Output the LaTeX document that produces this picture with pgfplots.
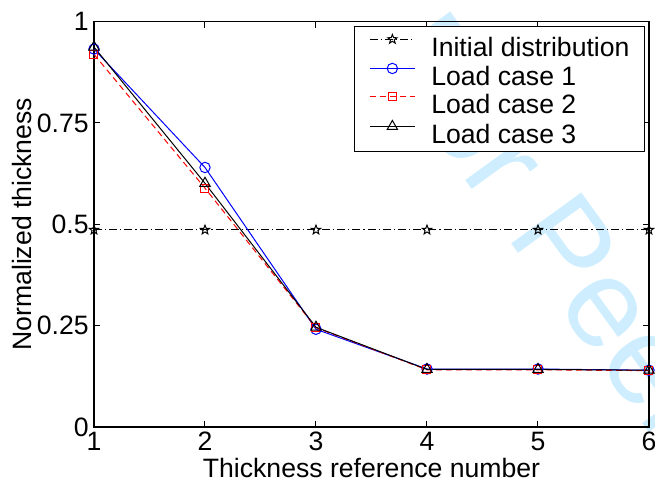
\documentclass[border=0pt]{standalone}
\usepackage{pgfplots}
\pgfplotsset{compat=1.18}
\usepackage{fontspec}
\setmainfont{Liberation Sans}
\definecolor{wm}{RGB}{206,238,255}
\pgfdeclareplotmark{pentagram}{%
  \pgfpathmoveto{\pgfpointpolar{90}{\pgfplotmarksize}}%
  \pgfpathlineto{\pgfpointpolar{126}{0.42\pgfplotmarksize}}%
  \pgfpathlineto{\pgfpointpolar{162}{\pgfplotmarksize}}%
  \pgfpathlineto{\pgfpointpolar{198}{0.42\pgfplotmarksize}}%
  \pgfpathlineto{\pgfpointpolar{234}{\pgfplotmarksize}}%
  \pgfpathlineto{\pgfpointpolar{270}{0.42\pgfplotmarksize}}%
  \pgfpathlineto{\pgfpointpolar{306}{\pgfplotmarksize}}%
  \pgfpathlineto{\pgfpointpolar{342}{0.42\pgfplotmarksize}}%
  \pgfpathlineto{\pgfpointpolar{18}{\pgfplotmarksize}}%
  \pgfpathlineto{\pgfpointpolar{54}{0.42\pgfplotmarksize}}%
  \pgfpathclose\pgfusepathqstroke}
\begin{document}
\begin{tikzpicture}[x=1pt,y=1pt]
\begin{scope}
\clip (0,0) rectangle (327.5,242);
\node[rotate=-54, anchor=base west, text=wm, inner sep=0pt,
  font=\fontsize{63}{70}\selectfont] at (187,215) {For Peer Review};
\end{scope}
\begin{axis}[
  at={(47pt,28.5pt)}, anchor=south west,
  width=277.5pt, height=202.75pt, scale only axis,
  xmin=1, xmax=6, ymin=0, ymax=1,
  xtick={1,2,3,4,5,6},
  ytick={0,0.25,0.5,0.75,1},
  yticklabels={0,0.25,0.5,0.75,1},
  tick align=inside, xtick pos=both, ytick pos=both,
  major tick length=3pt,
  axis line style={line width=0.8pt},
  every tick/.style={black, line width=0.5pt},
  /pgf/number format/assume math mode=true,
  tick label style={font=\fontsize{13.3}{15}\selectfont},
  xticklabel style={inner sep=0pt, yshift=-2.5pt},
  yticklabel style={inner sep=0pt, xshift=-2.5pt},
  label style={font=\fontsize{13.3}{15}\selectfont},
  xlabel={Thickness reference number},
  ylabel={Normalized thickness},
  xlabel style={at={(axis description cs:0.5,-0.102)}, anchor=center, inner sep=0pt},
  ylabel style={at={(axis description cs:-0.13,0.5)}, anchor=center, inner sep=0pt},
  legend style={at={(axis description cs:0.9928,0.989)}, anchor=north east,
    draw=black, line width=0.5pt, fill=white,
    font=\fontsize{13.3}{15}\selectfont,
    inner xsep=7.5pt, inner ysep=4pt, row sep=3.5pt, column sep=8pt,
    nodes={inner sep=0pt, text height=10pt, text depth=0pt}},
  legend cell align=left,
  legend image code/.code={\draw[mark repeat=2, mark phase=2, #1]
    plot coordinates {(0pt,3.5pt) (11.25pt,3.5pt) (22.5pt,3.5pt)};},
]
\addplot[black, line width=0.5pt, dash pattern=on 4pt off 1.5pt on 0.6pt off 1.5pt,
  mark=pentagram, mark size=2.4pt, mark options={solid, line width=0.5pt}]
  coordinates {(1,0.486) (2,0.486) (3,0.486) (4,0.486) (5,0.486) (6,0.486)};
\addlegendentry{Initial distribution}
\addplot[blue, line width=0.5pt, mark=o, mark size=2.6pt, mark options={solid}]
  coordinates {(1,0.932) (2,0.640) (3,0.241) (4,0.143) (5,0.143) (6,0.140)};
\addlegendentry{Load case 1}
\addplot[red, line width=0.5pt, dash pattern=on 3pt off 2pt, mark=square,
  mark size=2pt, mark options={solid}]
  coordinates {(1,0.919) (2,0.589) (3,0.245) (4,0.141) (5,0.141) (6,0.139)};
\addlegendentry{Load case 2}
\addplot[black, line width=0.5pt, mark=triangle, mark size=3pt, mark options={solid}]
  coordinates {(1,0.937) (2,0.601) (3,0.246) (4,0.142) (5,0.142) (6,0.140)};
\addlegendentry{Load case 3}
\end{axis}
\pgfresetboundingbox
\path[use as bounding box] (0,0) rectangle (327.5,242);
\end{tikzpicture}
\end{document}
